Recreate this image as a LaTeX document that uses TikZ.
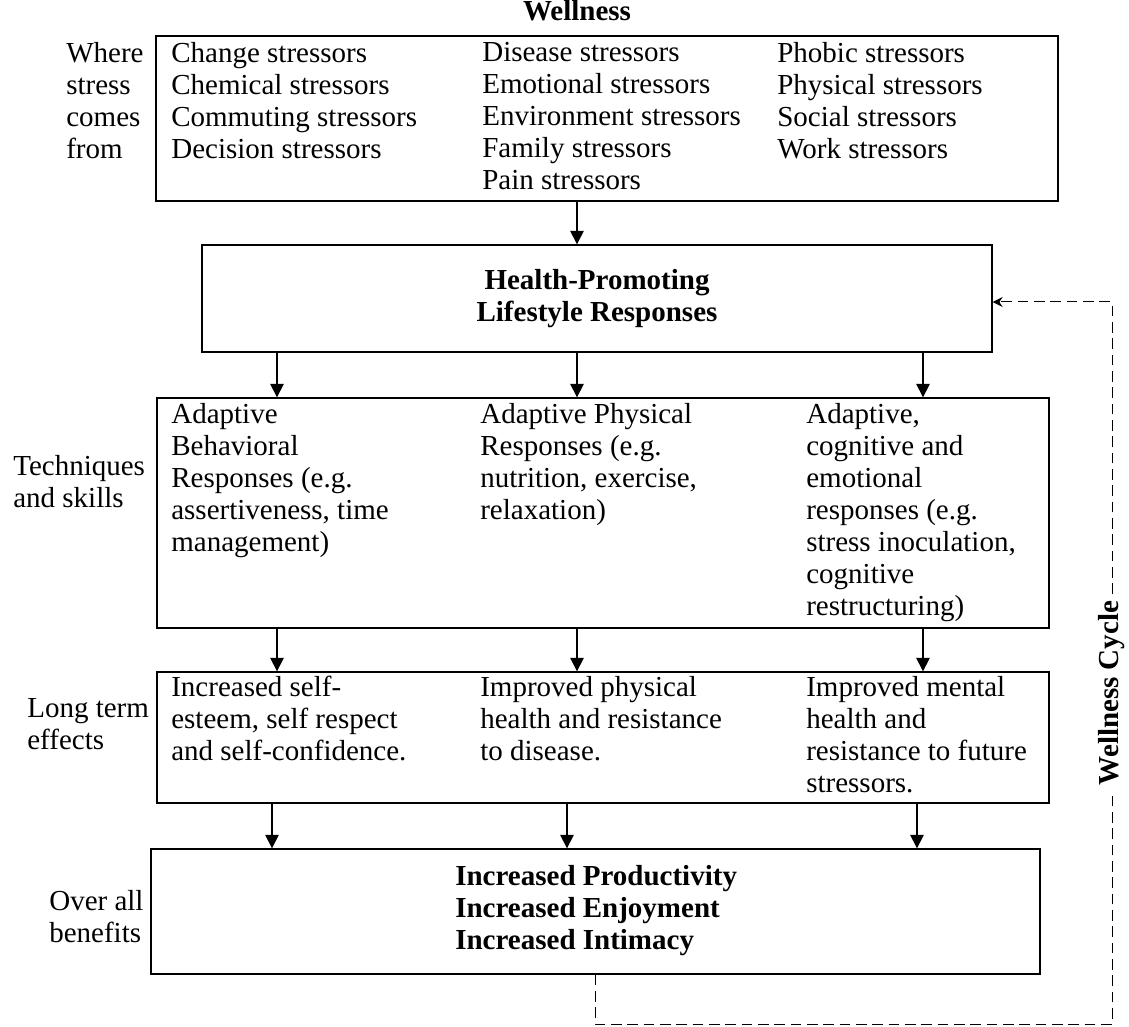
\documentclass[tikz,border=0pt]{standalone}
\usepackage{fontspec}
\setmainfont{Liberation Serif}
\usetikzlibrary{arrows.meta,fit}

\tikzset{
  box/.style={draw, line width=0.8pt, inner sep=0pt},
  txt/.style={anchor=north west, inner sep=0pt, align=left,
    font=\fontsize{17.4}{19.2}\selectfont, execute at begin node=\strut},
  bold/.style={inner sep=0pt, align=center,
    font=\fontsize{17.4}{19.2}\selectfont\bfseries},
  arr/.style={line width=0.8pt, -{Triangle[length=8pt,width=8pt]}},
  cyc/.style={line width=0.6pt, dash pattern=on 6.4pt off 3.4pt,
    -{Stealth[length=6pt,width=6pt]}}
}

\begin{document}
\begin{tikzpicture}[x=0.6pt,y=-0.6pt]
    \useasboundingbox (0,0) rectangle (1129,1027);
    % boxes
    \node[box, fit={(156,36) (1058,201)}] (b1) {};
    \node[box, fit={(202,245) (992,352)}] (b2) {};
    \node[box, fit={(157,398) (1049,628)}] (b3) {};
    \node[box, fit={(157,672) (1049,803)}] (b4) {};
    \node[box, fit={(151,849) (1040,974)}] (b5) {};
    \node[bold, anchor=base] (title) at (577,21) {Wellness};
    % where stress comes from
    \node[txt] (lbl1) at (66,42) {Where\\stress\\comes\\from};
    \node[txt] (s1) at (171,42) {Change stressors\\Chemical stressors\\Commuting stressors\\Decision stressors};
    \node[txt] (s2) at (482,42) {Disease stressors\\Emotional stressors\\Environment stressors\\Family stressors\\Pain stressors};
    \node[txt] (s3) at (777,42) {Phobic stressors\\Physical stressors\\Social stressors\\Work stressors};
    \node[bold] (hp) at (b2.center) {Health-Promoting\\Lifestyle Responses};
    % techniques and skills
    \node[txt] (lbl2) at (13,455) {Techniques\\and skills};
    \node[txt] (t1) at (171,403) {Adaptive\\Behavioral\\Responses (e.g.\\assertiveness, time\\management)};
    \node[txt] (t2) at (480,403) {Adaptive Physical\\Responses (e.g.\\nutrition, exercise,\\relaxation)};
    \node[txt] (t3) at (806,403) {Adaptive,\\cognitive and\\emotional\\responses (e.g.\\stress inoculation,\\cognitive\\restructuring)};
    % long term effects
    \node[txt] (lbl3) at (27,698) {Long term\\effects};
    \node[txt] (e1) at (171,676) {Increased self-\\esteem, self respect\\and self-confidence.};
    \node[txt] (e2) at (480,676) {Improved physical\\health and resistance\\to disease.};
    \node[txt] (e3) at (806,676) {Improved mental\\health and\\resistance to future\\stressors.};
    % over all benefits
    \node[txt] (lbl4) at (49,890) {Over all\\benefits};
    \node[bold, align=left, anchor=west] (ben) at (455,911) {Increased Productivity\\Increased Enjoyment\\Increased Intimacy};
    % arrows
    \coordinate (m0) at (577,0);
    \coordinate (m1) at (277,0);
    \coordinate (m2) at (577,0);
    \coordinate (m3) at (923,0);
    \coordinate (n1) at (272,0);
    \coordinate (n2) at (567,0);
    \coordinate (n3) at (917,0);
    \draw[arr] (b1.south -| m0) -- (b2.north -| m0);
    \foreach \m in {m1,m2,m3} {
      \draw[arr] (b2.south -| \m) -- (b3.north -| \m);
      \draw[arr] (b3.south -| \m) -- (b4.north -| \m);
    }
    \foreach \n in {n1,n2,n3}
      \draw[arr] (b4.south -| \n) -- (b5.north -| \n);
    % wellness cycle
    \coordinate (c1) at (595,1024);
    \coordinate (c2) at (1112,1024);
    \coordinate (c3) at (1112,302);
    \draw[cyc] (b5.south -| c1) -- (c1) -- (c2) -- (c3) -- (b2.east |- c3);
    \node[bold, fill=white, inner sep=3pt, rotate=90] (wc) at (1112,693) {Wellness Cycle};
\end{tikzpicture}
\end{document}
